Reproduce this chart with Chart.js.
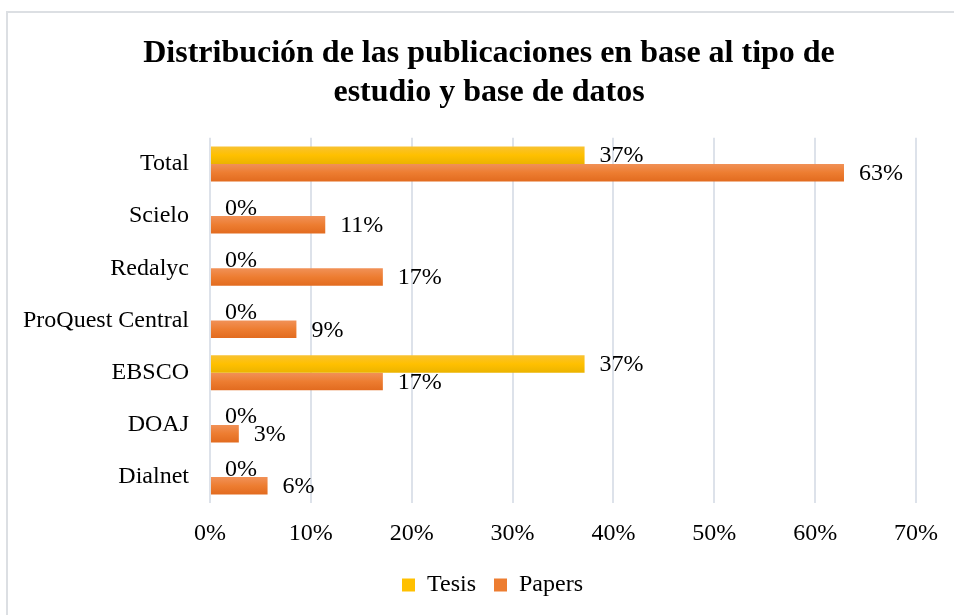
<!DOCTYPE html>
<html>
<head>
<meta charset="utf-8">
<script src="https://cdn.jsdelivr.net/npm/chart.js@4.4.1/dist/chart.umd.min.js"></script>
<style>
  html, body { margin: 0; padding: 0; background: #fff; }
  #wrap { position: relative; width: 954px; height: 615px; overflow: hidden; }
  #frame { position: absolute; left: 6px; top: 11px; width: 1000px; height: 700px;
           border-left: 2px solid #dcdfe3; border-top: 2px solid #dcdfe3; }
  canvas { position: absolute; left: 0; top: 0; }
</style>
</head>
<body>
<div id="wrap">
  <div id="frame"></div>
  <canvas id="c" width="954" height="615"></canvas>
</div>
<script>
const categories = ["Total", "Scielo", "Redalyc", "ProQuest Central", "EBSCO", "DOAJ", "Dialnet"];
const tesisValues = [37.14, 0, 0, 0, 37.14, 0, 0];
const papersValues = [62.86, 11.43, 17.14, 8.57, 17.14, 2.86, 5.71];
const tesisLabels = ["37%", "0%", "0%", "0%", "37%", "0%", "0%"];
const papersLabels = ["63%", "11%", "17%", "9%", "17%", "3%", "6%"];
const xTicks = [0, 10, 20, 30, 40, 50, 60, 70];

const serif = "'Liberation Serif', 'Times New Roman', serif";
const solidColors = ['#FFC000', '#ED7D31'];
const gradStops = [
  ['#F8C232', '#FFC000', '#EBB300'],
  ['#F19157', '#ED7D31', '#E26B1F']
];

const gradientPlugin = {
  id: 'barGradient',
  beforeDatasetsDraw(chart) {
    const ctx = chart.ctx;
    [0, 1].forEach(di => {
      chart.getDatasetMeta(di).data.forEach(bar => {
        const h = bar.height;
        const top = bar.y - h / 2;
        const g = ctx.createLinearGradient(0, top, 0, top + h);
        g.addColorStop(0, gradStops[di][0]);
        g.addColorStop(0.5, gradStops[di][1]);
        g.addColorStop(1, gradStops[di][2]);
        bar.options = Object.assign({}, bar.options, { backgroundColor: g });
      });
    });
  }
};

const blockShiftPlugin = {
  id: 'blockShift',
  afterLayout(chart) {
    if (chart.titleBlock) { chart.titleBlock.left += 39; }
    if (chart.legend) { chart.legend.left += 46; }
  }
};

const labelPlugin = {
  id: 'barLabels',
  afterDatasetsDraw(chart) {
    const ctx = chart.ctx;
    const sets = [tesisLabels, papersLabels];
    ctx.save();
    ctx.font = "24px " + serif;
    ctx.fillStyle = "#000";
    ctx.textAlign = "left";
    ctx.textBaseline = "middle";
    sets.forEach((labels, di) => {
      const meta = chart.getDatasetMeta(di);
      meta.data.forEach((bar, i) => {
        ctx.fillText(labels[i], bar.x + 15, bar.y + 1);
      });
    });
    ctx.restore();
  }
};

new Chart(document.getElementById('c'), {
  type: 'bar',
  data: {
    labels: categories,
    datasets: [
      { label: 'Tesis', data: tesisValues, backgroundColor: () => solidColors[0], borderWidth: 0 },
      { label: 'Papers', data: papersValues, backgroundColor: () => solidColors[1], borderWidth: 0 }
    ]
  },
  options: {
    indexAxis: 'y',
    responsive: false,
    animation: false,
    devicePixelRatio: 1,
    layout: { padding: { left: 2, right: 17, top: 0, bottom: 8 } },
    datasets: { bar: { categoryPercentage: 0.67, barPercentage: 1.0 } },
    scales: {
      x: {
        min: 0, max: 70,
        afterBuildTicks(axis) { axis.ticks = xTicks.map(v => ({ value: v })); },
        afterFit(axis) { axis.height -= 9; },
        ticks: {
          callback: v => v + '%',
          font: { family: serif, size: 24 },
          color: '#000',
          padding: 16
        },
        grid: { color: '#dde2ea', lineWidth: 2, drawTicks: false },
        border: { display: false }
      },
      y: {
        ticks: { font: { family: serif, size: 24 }, color: '#000', padding: 21 },
        grid: { display: false, drawTicks: false },
        border: { display: false }
      }
    },
    plugins: {
      title: {
        display: true,
        text: ['Distribución de las publicaciones en base al tipo de', 'estudio y base de datos'],
        font: { family: serif, size: 32, weight: 'bold', lineHeight: 1.2 },
        color: '#000',
        padding: { top: 35, bottom: 26 }
      },
      legend: {
        position: 'bottom',
        labels: {
          font: { family: serif, size: 24 },
          color: '#000',
          boxWidth: 13, boxHeight: 13,
          padding: 18
        }
      },
      tooltip: { enabled: false }
    }
  },
  plugins: [gradientPlugin, blockShiftPlugin, labelPlugin]
});
</script>
</body>
</html>
